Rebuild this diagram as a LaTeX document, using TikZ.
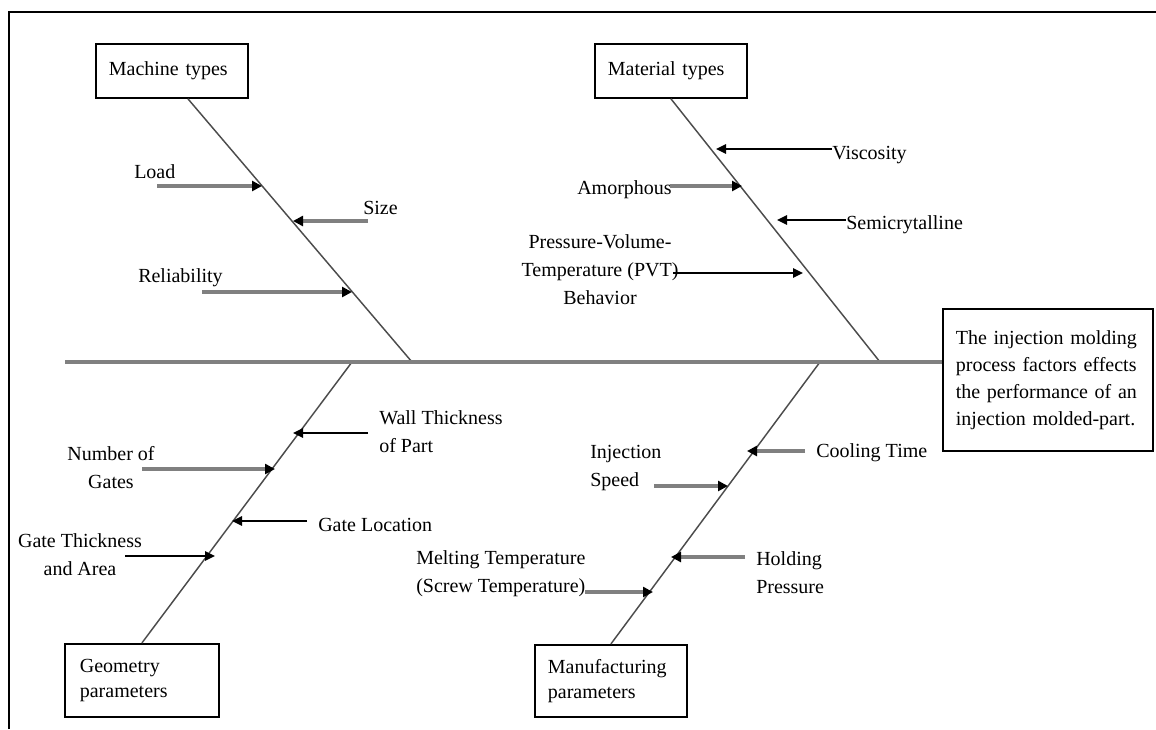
\documentclass[tikz,border=0pt]{standalone}
\usepackage{fontspec}
\setmainfont{Liberation Serif}
\usetikzlibrary{arrows.meta, calc, positioning}
\tikzset{
  cause/.style = {draw=black, line width=1.3pt, align=left, inner xsep=9.75pt,
    inner ysep=0pt, font=\fontsize{15}{18.75}\selectfont},
  factor/.style = {inner sep=0pt, font=\fontsize{15}{21}\selectfont},
  spine/.style = {draw=black!50, line width=2.6pt},
  bone/.style = {draw=black!70, line width=1.1pt},
  grayarrow/.style = {draw=black!50, line width=2.6pt,
    -{Triangle[length=7.5pt, width=7.5pt, color=black]}},
  blackarrow/.style = {draw=black, line width=1.4pt,
    -{Triangle[length=7.5pt, width=7pt]}}
}
\begin{document}
\begin{tikzpicture}[x=0.75pt, y=-0.75pt]
\useasboundingbox (0,0) rectangle (1156,729);
\draw[line width=1.5pt] (9,729) -- (9,12) -- (1156,12);

\node[cause, anchor=north west, text width=94.5pt, minimum height=40.5pt] (mach) at (95,43) {Machine types};
\node[cause, anchor=north west, text width=94.5pt, minimum height=40.5pt] (mat) at (594,43) {Material types};
\node[cause, anchor=north west, text width=93pt, inner xsep=11.25pt, minimum height=54.75pt] (geo) at (64,643) {Geometry\\parameters};
\node[cause, anchor=north west, text width=94.5pt, minimum height=54pt] (manu) at (534,644) {Manufacturing\\parameters};
\node[cause, anchor=north west, text width=138pt, minimum height=106.5pt,
  font=\fontsize{15}{20.25}\selectfont] (effect) at (942,308)
  {The injection molding\\process factors effects\\the performance of an\\injection molded-part.\\[4pt]};

\coordinate (tail) at (65,362);
\coordinate (j1) at (412,362);
\coordinate (j2) at (880,362);
\coordinate (j3) at (352,362);
\coordinate (j4) at (820,362);
\draw[bone] ($(mach.south)+(16,0)$) -- (j1);
\draw[bone] (mat.south) -- (j2);
\draw[bone] (geo.north) -- (j3);
\draw[bone] (manu.north) -- (j4);
\draw[spine] (tail) -- (tail -| effect.west);

\node[factor, anchor=west] (load) at (134,172) {Load};
\node[factor, anchor=west] (size) at (363,208) {Size};
\node[factor, anchor=west] (rel) at (138,278) {Reliability};
\coordinate (load-s) at (157,186);
\coordinate (load-t) at (262,186);
\coordinate (size-s) at (368,221);
\coordinate (size-t) at (293,221);
\coordinate (rel-s) at (202,292);
\coordinate (rel-t) at (352,292);
\draw[grayarrow] (load-s) -- (load-t);
\draw[grayarrow] (size-s) -- (size-t);
\draw[grayarrow] (rel-s) -- (rel-t);

\node[factor, anchor=west] (visc) at (832,155) {Viscosity};
\node[factor, anchor=east] (amor) at (672,190) {Amorphous};
\node[factor, anchor=west] (semi) at (846,225) {Semicrytalline};
\node[factor, align=center] (pvt) at (600,270) {Pressure-Volume-\\Temperature (PVT)\\Behavior};
\coordinate (visc-s) at (832,149);
\coordinate (visc-t) at (716,149);
\coordinate (amor-s) at (670,186);
\coordinate (amor-t) at (742,186);
\coordinate (semi-s) at (846,220);
\coordinate (semi-t) at (777,220);
\coordinate (pvt-s) at (673,273);
\coordinate (pvt-t) at (803,273);
\draw[blackarrow] (visc-s) -- (visc-t);
\draw[grayarrow] (amor-s) -- (amor-t);
\draw[blackarrow] (semi-s) -- (semi-t);
\draw[blackarrow] (pvt-s) -- (pvt-t);

\node[factor, anchor=west, align=left] (wall) at (379,432) {Wall Thickness\\of Part};
\node[factor, align=center] (ngate) at (111,468) {Number of\\Gates};
\node[factor, anchor=west] (gloc) at (318,525) {Gate Location};
\node[factor, align=center] (gthk) at (80,555) {Gate Thickness\\and Area};
\coordinate (wall-s) at (368,433);
\coordinate (wall-t) at (293,433);
\coordinate (ngate-s) at (142,469);
\coordinate (ngate-t) at (275,469);
\coordinate (gloc-s) at (307,521);
\coordinate (gloc-t) at (232,521);
\coordinate (gthk-s) at (125,556);
\coordinate (gthk-t) at (215,556);
\draw[blackarrow] (wall-s) -- (wall-t);
\draw[grayarrow] (ngate-s) -- (ngate-t);
\draw[blackarrow] (gloc-s) -- (gloc-t);
\draw[blackarrow] (gthk-s) -- (gthk-t);

\node[factor, anchor=west] (cool) at (816,453) {Cooling Time};
\node[factor, anchor=west, align=left] (inj) at (590,468) {Injection\\Speed};
\node[factor, anchor=west, align=left] (hold) at (756,573) {Holding\\Pressure};
\node[factor, anchor=west, align=left] (melt) at (416,574) {Melting Temperature\\(Screw Temperature)};
\coordinate (cool-s) at (805,451);
\coordinate (cool-t) at (747,451);
\coordinate (inj-s) at (654,486);
\coordinate (inj-t) at (728,486);
\coordinate (hold-s) at (745,557);
\coordinate (hold-t) at (671,557);
\coordinate (melt-s) at (585,592);
\coordinate (melt-t) at (653,592);
\draw[grayarrow] (cool-s) -- (cool-t);
\draw[grayarrow] (inj-s) -- (inj-t);
\draw[grayarrow] (hold-s) -- (hold-t);
\draw[grayarrow] (melt-s) -- (melt-t);
\end{tikzpicture}
\end{document}
